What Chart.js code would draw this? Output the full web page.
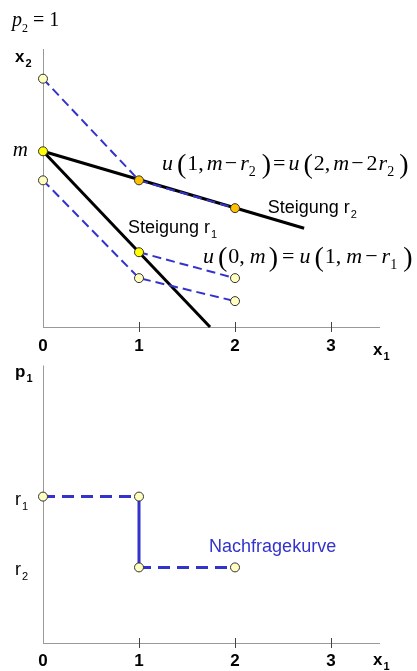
<!DOCTYPE html>
<html><head><meta charset="utf-8">
<script src="https://cdn.jsdelivr.net/npm/chart.js@4"></script>
<style>
html,body{margin:0;padding:0;background:#fff;}
#wrap{position:relative;width:417px;height:671px;overflow:hidden;}
canvas{position:absolute;left:0;}
</style>
</head><body>
<div id="wrap">
<canvas id="top" width="417" height="360" style="top:0;width:417px;height:360px"></canvas>
<canvas id="bot" width="417" height="311" style="top:360px;width:417px;height:311px"></canvas>
</div>
<script>
// ---------- data ----------
const xTicks = [0, 1, 2, 3];
// top diagram: indifference curves (blue dashed)
const curveAX = [0, 1, 2],  curveAY = [2.59, 1.53, 1.24];
const curveBX = [1, 2],     curveBY = [0.78, 0.51];
const curveCX = [0, 1, 2],  curveCY = [1.53, 0.51, 0.27];
// budget lines (black)
const budget1X = [0, 1.74], budget1Y = [1.833, 0];
const budget2X = [0, 2.72], budget2Y = [1.833, 1.03];
// marked bundles
const paleX = [0, 0, 1, 2, 2],   paleY = [2.59, 1.53, 0.51, 0.51, 0.27];
const yellowX = [0, 1],          yellowY = [1.833, 0.78];
const orangeX = [1, 2],          orangeY = [1.53, 1.24];
const mValue = 1.833;
// bottom diagram: demand curve
const r1 = 1.53, r2 = 0.79;
const demandX = [0, 1, 1, 2], demandY = [r1, r1, r2, r2];

// ---------- style ----------
const BLUE = '#3333cc';
const SERIF = "'Liberation Serif','Times New Roman',serif";
const SANS = "'Liberation Sans',Arial,sans-serif";
const PALE = '#ffffc0', YEL = '#ffff00', ORA = '#ffc000';

function pts(xs, ys) { return xs.map((x, i) => ({x: x, y: ys[i]})); }

function rich(ctx, x, y, tokens, size, family, color) {
  ctx.save();
  ctx.textBaseline = 'alphabetic';
  ctx.textAlign = 'left';
  ctx.fillStyle = color || '#000';
  for (const [t, k, g] of tokens) {
    let f, dy = 0;
    if (k === 'i') f = `italic ${size}px ${family}`;
    else if (k === 'r') f = `${size}px ${family}`;
    else if (k === 'p') { f = `${Math.round(size * 1.25)}px ${family}`; dy = size * 0.14; }
    else if (k === 's') { f = `${Math.round(size * 0.62)}px ${family}`; dy = size * 0.28; }
    else if (k === 'b') f = `bold ${size}px ${family}`;
    else if (k === 'bs') { f = `bold ${Math.round(size * 0.65)}px ${family}`; dy = size * 0.3; }
    ctx.font = f;
    ctx.fillText(t, x, y + dy);
    x += ctx.measureText(t).width + (g || 0);
  }
  ctx.restore();
}

function drawFrame(chart) {
  const ctx = chart.ctx, a = chart.chartArea, xs = chart.scales.x;
  ctx.save();
  ctx.strokeStyle = '#999';
  ctx.lineWidth = 1;
  ctx.beginPath();
  ctx.moveTo(a.left + 0.5, a.top);
  ctx.lineTo(a.left + 0.5, a.bottom);
  ctx.stroke();
  ctx.strokeStyle = '#444';
  for (const v of xTicks) {
    if (v === 0) continue;
    const px = Math.round(xs.getPixelForValue(v)) + 0.5;
    ctx.beginPath();
    ctx.moveTo(px, a.bottom - 5);
    ctx.lineTo(px, a.bottom + 5);
    ctx.stroke();
  }
  ctx.restore();
}

function xScale(h, pad) {
  return {
    type: 'linear', min: 0, max: 3.5,
    afterBuildTicks: s => { s.ticks = xTicks.map(v => ({value: v})); },
    afterFit: s => { s.height = h; },
    grid: {display: false},
    border: {display: true, color: '#999', width: 1},
    ticks: {color: '#000', font: {family: SANS, size: 17, weight: 'bold'}, padding: pad,
            maxRotation: 0, autoSkip: false, callback: v => String(v)}
  };
}

const dashLine = {borderColor: BLUE, borderWidth: 2, borderDash: [9, 5], pointRadius: 0, showLine: true, fill: false, order: 2, clip: false};
const blackLine = {borderColor: '#000', borderWidth: 3, pointRadius: 0, showLine: true, fill: false, order: 3, clip: false};
function dots(xs, ys, fillc) {
  return {data: pts(xs, ys), showLine: false, pointRadius: 4.5, pointHoverRadius: 4.5, clip: false,
          pointBackgroundColor: fillc, pointBorderColor: '#333', pointBorderWidth: 1, order: 0};
}

// ---------- top chart ----------
const topDeco = {
  id: 'topDeco',
  beforeDatasetsDraw(chart) { drawFrame(chart); },
  afterDraw(chart) {
    const ctx = chart.ctx, a = chart.chartArea, xs = chart.scales.x, ys = chart.scales.y;
    rich(ctx, a.left - 31, a.top - 23, [['p','i',0],['2','s',5],['=','r',5],['1','r',0]], 20, SERIF);
    rich(ctx, a.left - 28, a.top + 13, [['x','b',1],['2','bs',0]], 17, SANS);
    ctx.save();
    ctx.font = `italic 21px ${SERIF}`; ctx.textAlign = 'right'; ctx.textBaseline = 'middle';
    ctx.fillStyle = '#000';
    ctx.fillText('m', a.left - 15, ys.getPixelForValue(mValue) - 1);
    ctx.restore();
    rich(ctx, xs.getPixelForValue(1.24), ys.getPixelForValue(1.635),
      [['u','i',4],['(','p',1],['1','r',0],[',','r',3],['m','i',2],['\u2212','r',3],['r','i',0],['2','s',6],[')','p',2],
       ['=','r',3],['u','i',4],['(','p',1],['2','r',0],[',','r',3],['m','i',2],['\u2212','r',3],['2','r',1],['r','i',0],['2','s',5],[')','p',0]],
      22, SERIF);
    rich(ctx, xs.getPixelForValue(1.667), ys.getPixelForValue(0.667),
      [['u','i',4],['(','p',1],['0','r',0],[',','r',5],['m','i',3],[')','p',4],
       ['=','r',5],['u','i',4],['(','p',1],['1','r',0],[',','r',5],['m','i',3],['\u2212','r',4],['r','i',0],['1','s',6],[')','p',0]],
      22, SERIF);
    rich(ctx, xs.getPixelForValue(2.34), ys.getPixelForValue(1.19), [['Steigung r','r',1],['2','s',0]], 18, SANS);
    rich(ctx, xs.getPixelForValue(0.885), ys.getPixelForValue(0.98), [['Steigung r','r',1],['1','s',0]], 18, SANS);
    rich(ctx, a.right - 6, a.bottom + 28, [['x','b',1],['1','bs',0]], 17, SANS);
  }
};

new Chart(document.getElementById('top'), {
  type: 'scatter',
  data: {datasets: [
    dots(paleX, paleY, PALE),
    dots(yellowX, yellowY, YEL),
    dots(orangeX, orangeY, ORA),
    Object.assign({data: pts(curveAX, curveAY)}, dashLine),
    Object.assign({data: pts(curveBX, curveBY)}, dashLine),
    Object.assign({data: pts(curveCX, curveCY)}, dashLine),
    Object.assign({data: pts(budget1X, budget1Y)}, blackLine),
    Object.assign({data: pts(budget2X, budget2Y)}, blackLine)
  ]},
  options: {
    responsive: false, animation: false, events: [],
    layout: {padding: {left: 43, right: 38, top: 49, bottom: 0}},
    plugins: {legend: {display: false}, tooltip: {enabled: false}},
    scales: {x: xScale(33, 1), y: {type: 'linear', min: 0, max: 2.9, display: false}}
  },
  plugins: [topDeco]
});

// ---------- bottom chart ----------
const botDeco = {
  id: 'botDeco',
  beforeDatasetsDraw(chart) { drawFrame(chart); },
  afterDraw(chart) {
    const ctx = chart.ctx, a = chart.chartArea, xs = chart.scales.x, ys = chart.scales.y;
    rich(ctx, a.left - 28, a.top + 11, [['p','b',1],['1','bs',0]], 17, SANS);
    rich(ctx, a.left - 28, ys.getPixelForValue(r1) + 8, [['r','r',1],['1','s',0]], 18, SANS);
    rich(ctx, a.left - 28, ys.getPixelForValue(r2) + 8, [['r','r',1],['2','s',0]], 18, SANS);
    rich(ctx, xs.getPixelForValue(1.73), ys.getPixelForValue(0.953), [['Nachfragekurve','r',0]], 18, SANS, BLUE);
    rich(ctx, a.right - 6, a.bottom + 22, [['x','b',1],['1','bs',0]], 17, SANS);
  }
};

new Chart(document.getElementById('bot'), {
  type: 'scatter',
  data: {datasets: [
    dots(demandX, demandY, PALE),
    {data: pts(demandX, demandY), showLine: true, fill: false, pointRadius: 0, borderColor: BLUE, borderWidth: 3, order: 2, clip: false,
     segment: {borderDash: c => (c.p0.parsed.x === c.p1.parsed.x ? [] : [12, 7])}}
  ]},
  options: {
    responsive: false, animation: false, events: [],
    layout: {padding: {left: 43, right: 38, top: 3, bottom: 0}},
    plugins: {legend: {display: false}, tooltip: {enabled: false}},
    scales: {x: xScale(28, 0), y: {type: 'linear', min: 0, max: 2.9, display: false}}
  },
  plugins: [botDeco]
});
</script>
</body></html>
